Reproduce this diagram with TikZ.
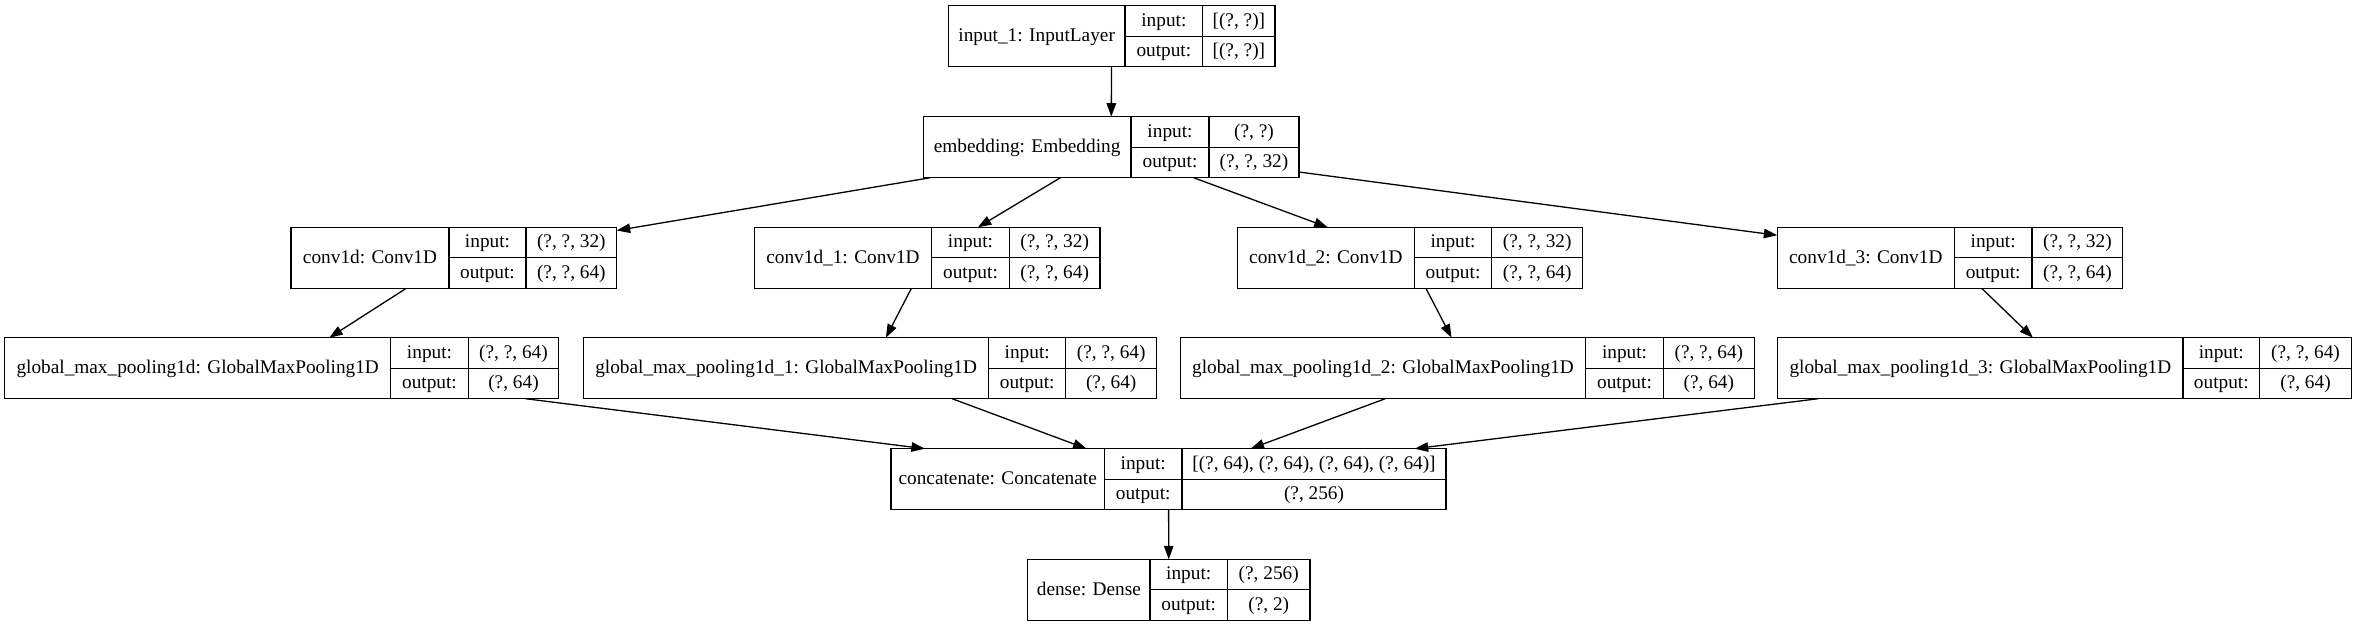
\documentclass[tikz,border=0pt]{standalone}
\usepackage{fontspec}
\setmainfont{Liberation Serif}
\usetikzlibrary{arrows.meta}
% #1 name, #2 left, #3 first divider, #4 second divider, #5 right, #6 top, #7 layer, #8 input, #9 output
\newcommand{\layer}[9]{%
	\node[box, minimum width={(#5-#2)*1bp}] (#1) at ({(#2+#5)/2},{#6+30.5}) {};
	\draw[cell] (#3,#6) -- (#3,{#6+61});
	\draw[cell] (#4,#6) -- (#4,{#6+61});
	\draw[cell] (#3,{#6+30.5}) -- (#5,{#6+30.5});
	\node[txt] at ({(#2+#3)/2},{#6+30.5}) {#7};
	\node[txt] at ({(#3+#4)/2},{#6+15.25}) {input:};
	\node[txt] at ({(#3+#4)/2},{#6+45.75}) {output:};
	\node[txt] at ({(#4+#5)/2},{#6+15.25}) {#8};
	\node[txt] at ({(#4+#5)/2},{#6+45.75}) {#9};
}

\begin{document}
\begin{tikzpicture}[x=1bp, y=-1bp,
		box/.style={draw, line width=1.3bp, inner sep=0pt, outer sep=0pt, minimum height=61bp},
		cell/.style={line width=1.3bp},
		txt/.style={inner sep=0pt, font=\fontsize{19.3bp}{23bp}\selectfont, text height=14.5bp, text depth=3.9bp},
		edge/.style={line width=1.3bp, -{Triangle[length=13.5bp, width=9.5bp]}}]
		%%%%% START %%%%%
		\useasboundingbox (0,0) rectangle (2357,627);
		
		\layer{input}{948.3}{1125}{1202.7}{1275}{5.7}{input\_1: InputLayer}{[(?, ?)]}{[(?, ?)]}
		\layer{emb}{923.3}{1131}{1209}{1299}{116.7}{embedding: Embedding}{(?, ?)}{(?, ?, 32)}
		
		\layer{conv0}{291}{449}{526}{616.7}{227.3}{conv1d: Conv1D}{(?, ?, 32)}{(?, ?, 64)}
		\layer{conv1}{754.3}{931.7}{1009.3}{1100}{227.3}{conv1d\_1: Conv1D}{(?, ?, 32)}{(?, ?, 64)}
		\layer{conv2}{1237.4}{1414.3}{1491.7}{1582.7}{227.3}{conv1d\_2: Conv1D}{(?, ?, 32)}{(?, ?, 64)}
		\layer{conv3}{1777.3}{1954.3}{2032}{2122.7}{227.3}{conv1d\_3: Conv1D}{(?, ?, 32)}{(?, ?, 64)}
		
		\layer{pool0}{4.7}{390.7}{468.3}{558.7}{337.7}{global\_max\_pooling1d: GlobalMaxPooling1D}{(?, ?, 64)}{(?, 64)}
		\layer{pool1}{583.5}{988.7}{1065.7}{1156.7}{337.7}{global\_max\_pooling1d\_1: GlobalMaxPooling1D}{(?, ?, 64)}{(?, 64)}
		\layer{pool2}{1180.5}{1585.5}{1663.5}{1754.2}{337.7}{global\_max\_pooling1d\_2: GlobalMaxPooling1D}{(?, ?, 64)}{(?, 64)}
		\layer{pool3}{1777.7}{2183}{2259.6}{2351.4}{337.7}{global\_max\_pooling1d\_3: GlobalMaxPooling1D}{(?, ?, 64)}{(?, 64)}
		
		\layer{concat}{891}{1104.4}{1182}{1446}{448.7}{concatenate: Concatenate}{[(?, 64), (?, 64), (?, 64), (?, 64)]}{(?, 256)}
		\layer{dense}{1027.7}{1150}{1227.4}{1310}{559.3}{dense: Dense}{(?, 256)}{(?, 2)}
		
		\draw[edge] (input) -- (emb);
		
		\draw[edge] (emb) -- (conv0);
		\draw[edge] (emb) -- (conv1);
		\draw[edge] (emb) -- (conv2);
		\draw[edge] (emb) -- (conv3);
		
		\draw[edge] (conv0) -- (pool0);
		\draw[edge] (conv1) -- (pool1);
		\draw[edge] (conv2) -- (pool2);
		\draw[edge] (conv3) -- (pool3);
		
		\draw[edge] (pool0) -- (concat);
		\draw[edge] (pool1) -- (concat);
		\draw[edge] (pool2) -- (concat);
		\draw[edge] (pool3) -- (concat);
		
		\draw[edge] (concat) -- (dense);
		%%%%% END %%%%%
\end{tikzpicture}
\end{document}
